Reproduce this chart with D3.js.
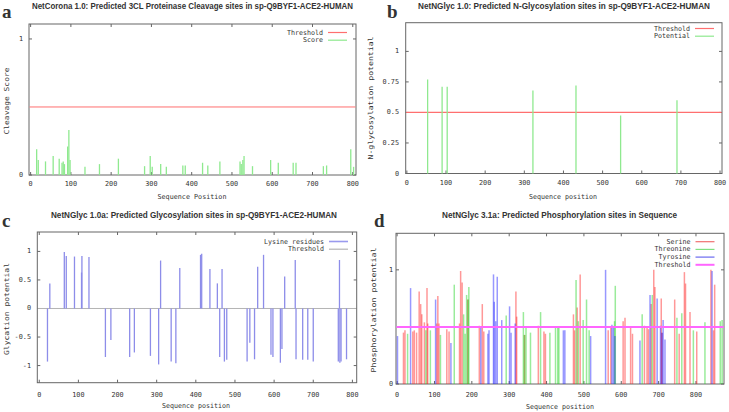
<!DOCTYPE html>
<html>
<head>
<meta charset="utf-8">
<script src="https://cdn.jsdelivr.net/npm/d3@7"></script>
<style>
  body { margin: 0; background: #fff; }
  svg text { fill: #333; }
</style>
</head>
<body>
<svg id="fig" width="729" height="412"></svg>
<script>
/* PANEL A: NETCORONA CLEAVAGE SCORES */
var cleavagePos   = [15, 19, 37, 56, 71, 78, 81, 84, 92, 95, 98, 135, 171, 218, 283, 297, 302, 323, 337, 378, 384, 427, 440, 470, 520, 523, 527, 530, 551, 596, 615, 652, 659, 727, 735, 795, 802];
var cleavageScore = [0.19, 0.11, 0.10, 0.14, 0.12, 0.09, 0.10, 0.08, 0.21, 0.33, 0.11, 0.06, 0.08, 0.12, 0.065, 0.14, 0.06, 0.08, 0.06, 0.07, 0.07, 0.09, 0.07, 0.10, 0.10, 0.08, 0.11, 0.14, 0.065, 0.11, 0.09, 0.09, 0.09, 0.065, 0.07, 0.19, 0.06];

/* PANEL B: N-GLYCOSYLATION */
var nglycPos = [53, 90, 103, 322, 432, 546, 690];
var nglycPot = [0.77, 0.71, 0.71, 0.68, 0.72, 0.475, 0.60];

/* PANEL C: GLYCATION (LYSINE RESIDUES) */
var glycPos = [27, 64, 69, 90, 108, 109, 127, 310, 359, 412, 415, 436, 455, 467, 558, 573, 627, 654, 767,
               21, 169, 183, 231, 243, 284, 305, 337, 349, 461, 473, 479, 531, 538, 550, 592, 597, 616, 620, 656, 673, 686, 700, 764, 768, 771, 785];
var glycPot = [0.44, 0.99, 0.92, 0.91, 0.63, 0.92, 0.90, 0.84, 0.71, 0.94, 0.96, 0.69, 0.44, 0.69, 0.73, 0.94, 0.56, 0.85, 0.85,
               -0.93, -0.85, -0.55, -0.85, -0.77, -0.83, -0.98, -0.93, -0.96, -0.85, -0.93, -0.90, -0.93, -0.60, -0.89, -0.81, -0.85, -0.95, -0.71, -0.89, -0.90, -0.90, -0.93, -0.93, -0.95, -0.93, -0.89];

/* PANEL D: PHOSPHORYLATION */
var serinePos = [17, 21, 42, 46, 52, 59, 63, 66, 73, 80, 82, 106, 109, 112, 133, 139, 167, 170, 174, 189, 220, 228, 232, 318, 320, 341, 378, 393, 397, 472, 475, 482, 490, 565, 572, 605, 610, 625, 630, 662, 669, 673, 680, 687, 690, 707, 709, 743, 755, 769, 772, 784, 802, 840, 847, 850];
var serineVal = [0.45, 0.47, 0.46, 0.47, 0.45, 0.81, 0.70, 0.61, 0.54, 0.84, 0.53, 0.53, 0.77, 0.53, 0.48, 0.46, 0.53, 0.99, 0.89, 0.74, 0.51, 0.70, 0.46, 0.81, 0.59, 0.43, 0.51, 0.46, 0.44, 0.61, 0.47, 0.67, 0.96, 0.47, 0.50, 0.55, 0.58, 0.50, 0.44, 0.51, 0.49, 0.48, 0.70, 1.00, 0.85, 0.75, 0.45, 0.74, 0.44, 0.98, 0.88, 0.63, 0.46, 1.00, 0.47, 0.87];
var threoninePos = [28, 77, 89, 116, 153, 178, 182, 186, 190, 192, 292, 338, 341, 345, 357, 384, 409, 424, 430, 433, 479, 485, 498, 507, 514, 582, 584, 656, 683, 749, 762, 793, 824, 865, 870];
var threonineVal = [0.44, 0.47, 0.47, 0.43, 0.87, 0.61, 0.44, 0.78, 0.74, 0.85, 0.60, 0.63, 0.43, 0.50, 0.45, 0.63, 0.45, 0.50, 0.50, 0.49, 0.91, 0.55, 0.56, 0.74, 0.47, 0.55, 0.86, 0.61, 0.78, 0.58, 0.62, 0.47, 0.54, 0.55, 0.56];
var tyrosinePos = [1, 36, 103, 144, 224, 243, 246, 258, 260, 264, 268, 280, 301, 305, 316, 445, 449, 518, 558, 575, 579, 583, 650, 677, 696, 705, 709, 712, 717, 843];
var tyrosineVal = [0.42, 0.84, 0.74, 0.36, 0.49, 0.44, 0.47, 0.96, 0.72, 0.55, 0.94, 0.56, 0.68, 0.45, 0.53, 0.47, 0.47, 0.42, 1.00, 0.52, 0.50, 0.42, 0.38, 0.78, 0.75, 0.51, 0.45, 0.56, 0.39, 0.99];

var xTicks800 = [0, 100, 200, 300, 400, 500, 600, 700, 800];

var svg = d3.select('#fig');
var mono = '"DejaVu Sans Mono", monospace';

/* SMALL TEXT HELPER, WIDTH FORCED WITH textLength */
function label(g, x, y, str, w, opts) {
  opts = opts || {};
  var t = g.append('text')
    .attr('x', x).attr('y', y)
    .attr('text-anchor', opts.anchor || 'middle')
    .attr('dominant-baseline', 'central')
    .style('font-family', opts.font || mono)
    .style('font-size', (opts.size || 6.8) + 'px')
    .style('font-weight', opts.weight || 'normal')
    .text(str);
  if (w) t.attr('textLength', w).attr('lengthAdjust', 'spacingAndGlyphs');
  if (opts.rotate) t.attr('transform', 'rotate(-90,' + x + ',' + y + ')');
  return t;
}

function drawPanel(p) {
  var g = svg.append('g');
  var x = d3.scaleLinear().domain(p.xDomain).range([p.left, p.right]);
  var y = d3.scaleLinear().domain(p.yDomain).range([p.bottom, p.top]);

  /* FRAME */
  g.append('rect')
    .attr('x', p.left).attr('y', p.top)
    .attr('width', p.right - p.left).attr('height', p.bottom - p.top)
    .attr('fill', 'none').attr('stroke', '#666').attr('stroke-width', 1);

  /* TICKS ON ALL SIDES */
  p.xTicks.forEach(function(v) {
    g.append('line').attr('x1', x(v)).attr('x2', x(v)).attr('y1', p.bottom).attr('y2', p.bottom - 3).attr('stroke', '#666');
    if (p.topTicks) g.append('line').attr('x1', x(v)).attr('x2', x(v)).attr('y1', p.top).attr('y2', p.top + 3).attr('stroke', '#666');
    label(g, x(v), p.xLabelY, String(v), String(v).length * 4.1);
  });
  p.yTicks.forEach(function(v) {
    g.append('line').attr('x1', p.left).attr('x2', p.left + 3).attr('y1', y(v)).attr('y2', y(v)).attr('stroke', '#666');
    g.append('line').attr('x1', p.right).attr('x2', p.right - 3).attr('y1', y(v)).attr('y2', y(v)).attr('stroke', '#666');
    label(g, p.yLabelX, y(v), String(v), String(v).length * 4.1, {anchor: 'end'});
  });

  /* THRESHOLD */
  if (p.threshold) {
    g.append('line')
      .attr('x1', p.left + 0.5).attr('x2', p.right - 0.5)
      .attr('y1', y(p.threshold.value)).attr('y2', y(p.threshold.value))
      .attr('stroke', p.threshold.color).attr('stroke-width', p.threshold.width);
  }

  /* BARS */
  p.series.forEach(function(s) {
    var rows = s.pos.map(function(d, i) { return {x: d, v: s.val[i]}; });
    g.append('g').selectAll('line')
      .data(rows).enter().append('line')
      .attr('x1', function(d) { return x(d.x); })
      .attr('x2', function(d) { return x(d.x); })
      .attr('y1', y(0))
      .attr('y2', function(d) { return y(d.v); })
      .attr('stroke', s.color)
      .attr('stroke-opacity', s.opacity || 1)
      .attr('stroke-width', s.width || 1.3);
  });

  /* LEGEND */
  p.legend.forEach(function(l, i) {
    var ly = p.legendY + i * 7.7;
    label(g, p.legendTextX, ly, l.name, l.name.length * 4, {anchor: 'end'});
    g.append('line').attr('x1', p.legendTextX + 5).attr('x2', p.legendTextX + 24)
      .attr('y1', ly).attr('y2', ly)
      .attr('stroke', l.color).attr('stroke-width', l.width || 1.2);
  });

  /* TITLES AND AXIS LABELS */
  label(g, p.titleX, p.titleY, p.title, p.titleW, {font: '"Liberation Sans", Arial, sans-serif', weight: 'bold', size: 8.2});
  label(g, p.letterX, p.letterY, p.letter, null, {font: '"Liberation Serif", "Times New Roman", serif', weight: 'bold', size: 19, anchor: 'start'});
  label(g, p.xTitleX, p.xTitleY, p.xTitle, p.xTitleW);
  label(g, p.yTitleX, p.yTitleY, p.yTitle, p.yTitleW, {rotate: true});
}

/* a */
drawPanel({
  left: 29, right: 356, top: 24, bottom: 175,
  xDomain: [-4, 808], yDomain: [0, 1.11],
  xTicks: xTicks800, yTicks: [0, 1], topTicks: true,
  xLabelY: 184, yLabelX: 23,
  threshold: {value: 0.5, color: '#ff6f6f', width: 1},
  series: [{pos: cleavagePos, val: cleavageScore, color: '#8fe98f', width: 1.3}],
  legend: [{name: 'Threshold', color: '#ff6f6f'}, {name: 'Score', color: '#8fe98f'}],
  legendY: 32.5, legendTextX: 323,
  title: 'NetCorona 1.0: Predicted 3CL Proteinase Cleavage sites in sp-Q9BYF1-ACE2-HUMAN',
  titleX: 192.5, titleY: 6, titleW: 321,
  letter: 'a', letterX: 2, letterY: 11,
  xTitle: 'Sequence Position', xTitleX: 192, xTitleY: 197, xTitleW: 69,
  yTitle: 'Cleavage Score', yTitleX: 6.5, yTitleY: 101, yTitleW: 67
});

/* b */
drawPanel({
  left: 405.7, right: 722, top: 22.7, bottom: 173.5,
  xDomain: [-3, 805], yDomain: [0, 1.235],
  xTicks: xTicks800, yTicks: [0, 0.25, 0.5, 0.75, 1], topTicks: false,
  xLabelY: 183, yLabelX: 399,
  threshold: {value: 0.5, color: '#ff6f6f', width: 1.2},
  series: [{pos: nglycPos, val: nglycPot, color: '#8fe98f', width: 1.3}],
  legend: [{name: 'Threshold', color: '#ff6f6f'}, {name: 'Potential', color: '#8fe98f'}],
  legendY: 28.5, legendTextX: 690,
  title: 'NetNGlyc 1.0: Predicted N-Glycosylation sites in sp-Q9BYF1-ACE2-HUMAN',
  titleX: 564, titleY: 6, titleW: 292,
  letter: 'b', letterX: 387, letterY: 11,
  xTitleX: 563, xTitleY: 197, xTitle: 'Sequence position', xTitleW: 68,
  yTitle: 'N-glycosylation potential', yTitleX: 371, yTitleY: 98, yTitleW: 123
});

/* c */
drawPanel({
  left: 37.3, right: 356.7, top: 232, bottom: 382.7,
  xDomain: [-5, 811], yDomain: [-1.3, 1.34],
  xTicks: xTicks800, yTicks: [-1, -0.5, 0, 0.5, 1], topTicks: true,
  xLabelY: 395, yLabelX: 31,
  threshold: {value: 0, color: '#b5b5b5', width: 1},
  series: [{pos: glycPos, val: glycPot, color: '#8d8de9', width: 1.3}],
  legend: [{name: 'Lysine residues', color: '#9a9aee', width: 1.6}, {name: 'Threshold', color: '#b5b5b5'}],
  legendY: 241.5, legendTextX: 324,
  title: 'NetNGlyc 1.0a: Predicted Glycosylation sites in sp-Q9BYF1-ACE2-HUMAN',
  titleX: 194, titleY: 215, titleW: 286,
  letter: 'c', letterX: 2, letterY: 220,
  xTitle: 'Sequence position', xTitleX: 196, xTitleY: 406, xTitleW: 68,
  yTitle: 'Glycation potential', yTitleX: 7, yTitleY: 309, yTitleW: 92
});

/* d */
drawPanel({
  left: 396, right: 724, top: 233.3, bottom: 384,
  xDomain: [-3, 875], yDomain: [0, 1.32],
  xTicks: xTicks800, yTicks: [0, 1], topTicks: true,
  xLabelY: 395, yLabelX: 393,
  threshold: null,
  series: [
    {pos: serinePos, val: serineVal, color: '#ff1a1a', opacity: 0.45, width: 1.5},
    {pos: threoninePos, val: threonineVal, color: '#1fd21f', opacity: 0.45, width: 1.5},
    {pos: tyrosinePos, val: tyrosineVal, color: '#1a1aff', opacity: 0.45, width: 1.5}
  ],
  legend: [{name: 'Serine', color: '#f07070'}, {name: 'Threonine', color: '#80e080'},
           {name: 'Tyrosine', color: '#6a6af0'}, {name: 'Threshold', color: '#ff66ff', width: 2}],
  legendY: 241.7, legendTextX: 690.5,
  title: 'NetNGlyc 3.1a: Predicted Phosphorylation sites in Sequence',
  titleX: 559.5, titleY: 215, titleW: 235,
  letter: 'd', letterX: 374, letterY: 220,
  xTitle: 'Sequence position', xTitleX: 560, xTitleY: 407, xTitleW: 68,
  yTitle: 'Phosphorylation potential', yTitleX: 374, yTitleY: 310, yTitleW: 125
});

/* PANEL D THRESHOLD DRAWN OVER THE BARS */
var yD = d3.scaleLinear().domain([0, 1.32]).range([384, 233.3]);
svg.append('line')
  .attr('x1', 396.5).attr('x2', 723.5)
  .attr('y1', yD(0.5)).attr('y2', yD(0.5))
  .attr('stroke', '#ff66ff').attr('stroke-width', 2);
</script>
</body>
</html>
